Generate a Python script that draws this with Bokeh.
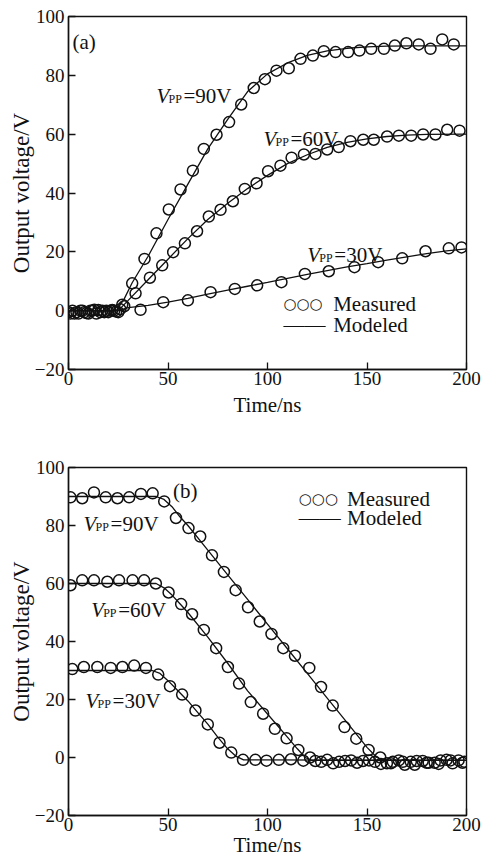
from bokeh.plotting import figure
from bokeh.layouts import column
from bokeh.models import Label, FixedTicker, Range1d, Title
from bokeh.embed import file_html
from bokeh.resources import INLINE

# ---------------- Panel (a): rising edge ----------------
a90_t = [0, 3, 6, 9, 12, 15, 18, 21, 24, 27, 32.0, 38.2, 44.2, 50.4, 56.3, 62.5, 68.0, 74.4, 80.7,
         86.8, 93.1, 98.7, 104.5, 110.7, 116.6, 122.8, 128.3, 134.2, 140.5, 146.2, 152.1, 158.5,
         164.0, 169.8, 176.0, 181.9, 187.8, 193.6]
a90_v = [-0.5, -1, 0, -0.8, 0, 0.2, -0.5, 0, -0.3, 2, 9.3, 17.6, 26.3, 34.4, 41.2, 47.6, 55.0, 59.8,
         64.1, 70.1, 75.7, 78.7, 81.6, 82.4, 85.6, 86.7, 88.2, 87.9, 87.9, 88.4, 89.0, 89.0, 90.1,
         90.9, 90.5, 89.0, 92.2, 90.5]
a60_t = [1, 4, 7, 10, 13, 16, 19, 22, 25, 28, 33.7, 40.9, 47.1, 52.6, 58.5, 64.6, 70.5, 76.4, 82.6,
         88.6, 94.5, 100.3, 106.5, 112.1, 118.3, 124.1, 130.0, 135.8, 141.7, 148.1, 153.4, 160.1,
         166.0, 172.2, 178.2, 184.4, 190.3, 196.5]
a60_v = [-1, -0.5, 0, -1, 0.3, -0.5, 0, 0.2, -0.5, 1.5, 5.9, 11.2, 15.4, 19.9, 22.9, 27.0, 32.0,
         34.3, 37.2, 41.4, 43.3, 47.4, 49.3, 52.0, 53.1, 53.3, 54.8, 55.6, 57.6, 58.1, 58.1, 59.2,
         59.5, 59.5, 59.9, 59.9, 61.5, 61.2]
a30_t = [2, 5, 8, 11, 14, 17, 20, 23, 26, 36.2, 47.6, 60.0, 71.4, 83.6, 94.8, 107.0, 118.8, 130.8,
         143.7, 155.6, 167.7, 179.4, 191.1, 197.5]
a30_v = [0, -1, -0.5, 0, -1, 0, -0.5, 0, 0.5, 0.3, 2.9, 3.5, 6.3, 7.4, 8.6, 9.7, 12.5, 13.4, 14.8,
         16.5, 17.8, 20.2, 21.2, 21.5]

am90_t = [0, 24, 28, 32, 40, 50, 60, 70, 80, 90, 100, 110, 120, 130, 140, 150, 160, 175, 200]
am90_v = [0, 0, 4, 9.5, 18.5, 31, 43, 55, 65, 74.5, 80.5, 84.2, 86.8, 88.3, 89.2, 89.7, 89.9, 90, 90]
am60_t = [0, 25, 30, 40, 50, 60, 70, 80, 90, 100, 110, 120, 130, 140, 150, 160, 170, 180, 200]
am60_v = [0, 0, 3.5, 10.5, 17.5, 24.5, 31, 36.5, 41.5, 46, 50, 53, 55.5, 57.2, 58.4, 59.2, 59.7,
          59.9, 60]
am30_t = [0, 25, 30, 40, 50, 60, 70, 80, 90, 100, 110, 120, 130, 140, 150, 160, 170, 180, 190, 200]
am30_v = [0, 0, 1, 1.8, 2.9, 4.2, 5.6, 7, 8.3, 9.6, 11, 12.3, 13.6, 14.9, 16, 17.2, 18.3, 19.4,
          20.3, 21]

# ---------------- Panel (b): falling edge ----------------
b90_t = [1.0, 6.9, 12.8, 18.7, 24.6, 30.5, 36.4, 42.3, 48.1, 54.0, 60.3, 66.2, 72.1, 78.1, 84.0,
         90.2, 96.1, 102.0, 107.9, 113.8, 121.0, 126.9, 132.8, 138.7, 144.6, 150.8, 156.7, 162,
         168, 174, 180, 186, 192, 198]
b90_v = [89.7, 89.4, 91.4, 89.7, 89.4, 89.7, 90.9, 91.1, 88.3, 82.6, 79.1, 76.2, 69.7, 64.0, 57.7,
         51.8, 46.9, 42.6, 37.7, 35.1, 30.9, 24.3, 17.9, 10.5, 6.5, 2.6, 0, -2, -1.5, -2.5, -1.8,
         -2.2, -1, -1.8]
b60_t = [1.0, 6.9, 12.8, 19.5, 25.4, 32.2, 38.0, 43.9, 50.3, 56.6, 62.1, 68.0, 74.2, 80.1, 85.7,
         91.6, 97.8, 103.7, 109.6, 115.5, 121.4, 127, 133, 139, 145, 151, 157, 163, 169, 175, 181,
         187, 193, 199]
b60_v = [59.4, 61.1, 61.1, 60.6, 61.1, 61.1, 61.1, 60.0, 56.9, 52.9, 49.4, 44.0, 37.7, 31.2, 25.5,
         19.1, 15.1, 9.9, 6.6, 2.6, 0, -1.5, -2, -1.2, -1.8, -1, -2.2, -1.5, -2.5, -1.2, -1.8, -1,
         -2, -1.5]
b30_t = [1.9, 7.7, 14.5, 21.2, 27.1, 33.0, 38.9, 45.1, 51.0, 57.1, 63.8, 70.0, 75.9, 81.8, 87.7,
         93.9, 99.5, 105.7, 111.8, 118.0, 124, 130, 136, 142, 148, 154, 160, 166, 172, 178, 184,
         190, 196]
b30_v = [30.5, 31.2, 31.2, 30.9, 31.2, 31.7, 30.9, 28.6, 24.6, 21.7, 16.2, 11.4, 5.1, 1.7, -0.8,
         -0.8, -1.1, -0.8, -0.6, -1.1, -1.2, -0.8, -1.5, -1, -1.2, -1.5, -2, -1, -1.5, -1.2, -1.8,
         -0.8, -1]

bm90_t = [0, 44, 48, 52, 56, 60, 70, 80, 90, 100, 110, 120, 130, 140, 150, 155, 158, 200]
bm90_v = [90, 90, 89, 86.5, 83, 80, 71.5, 63, 54.5, 46, 37.5, 29, 20.5, 12, 3.5, 0, -1, -1]
bm60_t = [0, 44, 48, 52, 56, 60, 70, 80, 90, 100, 110, 115, 119, 122, 200]
bm60_v = [60, 60, 58.5, 56, 53, 50, 41.5, 32.5, 23, 15, 7, 3, 0, -1, -1]
bm30_t = [0, 42, 46, 50, 55, 60, 65, 70, 75, 80, 84, 88, 200]
bm30_v = [30, 30, 29, 26.5, 23, 19.5, 15.5, 11.5, 7, 3, 0.5, -0.8, -1]

x_ticks = [0, 50, 100, 150, 200]
y_ticks = [-20, 0, 20, 40, 60, 80, 100]
y_tick_labels = {-20: "\u221220", 0: "0", 20: "20", 40: "40", 60: "60", 80: "80", 100: "100"}

SERIF = "Liberation Serif"
INK = "#111111"


def make_fig(height, b_top, b_bottom, xlabel_standoff):
    p = figure(width=481, height=height, x_range=Range1d(0, 200), y_range=Range1d(-20, 100),
               output_backend="svg", toolbar_location=None,
               min_border_left=68, min_border_right=15,
               min_border_top=b_top, min_border_bottom=b_bottom)
    p.grid.visible = False
    p.background_fill_color = "white"
    p.border_fill_color = "white"
    p.outline_line_color = INK
    p.outline_line_width = 1.4
    p.xaxis.ticker = FixedTicker(ticks=x_ticks)
    p.yaxis.ticker = FixedTicker(ticks=y_ticks)
    p.yaxis.major_label_overrides = y_tick_labels
    for ax in (p.xaxis[0], p.yaxis[0]):
        ax.axis_line_color = INK
        ax.axis_line_width = 1.4
        ax.major_tick_line_color = INK
        ax.major_tick_line_width = 1.3
        ax.major_tick_in = 7
        ax.major_tick_out = 0
        ax.minor_tick_line_color = None
        ax.major_label_text_font = SERIF
        ax.major_label_text_font_size = "19px"
        ax.major_label_text_color = INK
        ax.axis_label_text_font = SERIF
        ax.axis_label_text_font_size = "21px"
        ax.axis_label_text_font_style = "normal"
        ax.axis_label_text_color = INK
    p.xaxis.axis_label = "Time/ns"
    p.xaxis.major_label_standoff = 2
    p.xaxis.axis_label_standoff = xlabel_standoff
    p.yaxis.major_label_standoff = 4
    # y-axis title, shifted a little above the frame centre as in the reference
    p.add_layout(Title(text="Output voltage/V", align="center", offset=24, standoff=-5,
                       text_font=SERIF, text_font_size="23px", text_font_style="normal",
                       text_color=INK), "left")
    return p


def add_series(p, mt, mv, t, v):
    p.line(mt, mv, line_color=INK, line_width=1.3)
    p.scatter(t, v, marker="circle", size=11, fill_color=None, line_color=INK, line_width=1.5)


def vpp(p, x, y, val):
    p.add_layout(Label(x=x, y=y, text="V", text_font=SERIF, text_font_size="21px",
                       text_font_style="italic", text_color=INK, text_baseline="alphabetic"))
    p.add_layout(Label(x=x, y=y, x_offset=12, y_offset=-3, text="PP", text_font=SERIF,
                       text_font_size="12px", text_color=INK, text_baseline="alphabetic"))
    p.add_layout(Label(x=x, y=y, x_offset=27, text="=" + val, text_font=SERIF,
                       text_font_size="21px", text_color=INK, text_baseline="alphabetic"))


def legend(p, x_sym, x_txt, y1, y2):
    p.add_layout(Label(x=x_sym, y=y1, text="\u25cb\u25cb\u25cb", text_font="DejaVu Sans",
                       text_font_size="15px", text_color=INK, text_baseline="middle"))
    p.add_layout(Label(x=x_txt, y=y1, text="Measured", text_font=SERIF, text_font_size="21px",
                       text_color=INK, text_baseline="middle"))
    p.add_layout(Label(x=x_sym, y=y2, text="\u2014\u2014", text_font=SERIF, text_font_size="21px",
                       text_color=INK, text_baseline="middle"))
    p.add_layout(Label(x=x_txt, y=y2, text="Modeled", text_font=SERIF, text_font_size="21px",
                       text_color=INK, text_baseline="middle"))


pa = make_fig(440, 16, 71, 5)
add_series(pa, am90_t, am90_v, a90_t, a90_v)
add_series(pa, am60_t, am60_v, a60_t, a60_v)
add_series(pa, am30_t, am30_v, a30_t, a30_v)
pa.add_layout(Label(x=2, y=91.2, text="(a)", text_font=SERIF, text_font_size="21px",
                    text_color=INK, text_baseline="alphabetic"))
vpp(pa, 44.2, 73.1, "90V")
vpp(pa, 98, 58.5, "60V")
vpp(pa, 120, 18.8, "30V")
legend(pa, 108, 133, 2.4, -5.0)

pb = make_fig(420, 27, 45, -1)
add_series(pb, bm90_t, bm90_v, b90_t, b90_v)
add_series(pb, bm60_t, bm60_v, b60_t, b60_v)
add_series(pb, bm30_t, bm30_v, b30_t, b30_v)
pb.add_layout(Label(x=52.5, y=92.0, text="(b)", text_font=SERIF, text_font_size="21px",
                    text_color=INK, text_baseline="alphabetic"))
vpp(pb, 7.6, 80.6, "90V")
vpp(pb, 11.4, 50.9, "60V")
vpp(pb, 8.6, 19.4, "30V")
legend(pb, 115.7, 140, 89.3, 82.6)

layout = column(pa, pb, spacing=0)
open("out.html", "w").write(file_html(layout, INLINE))
